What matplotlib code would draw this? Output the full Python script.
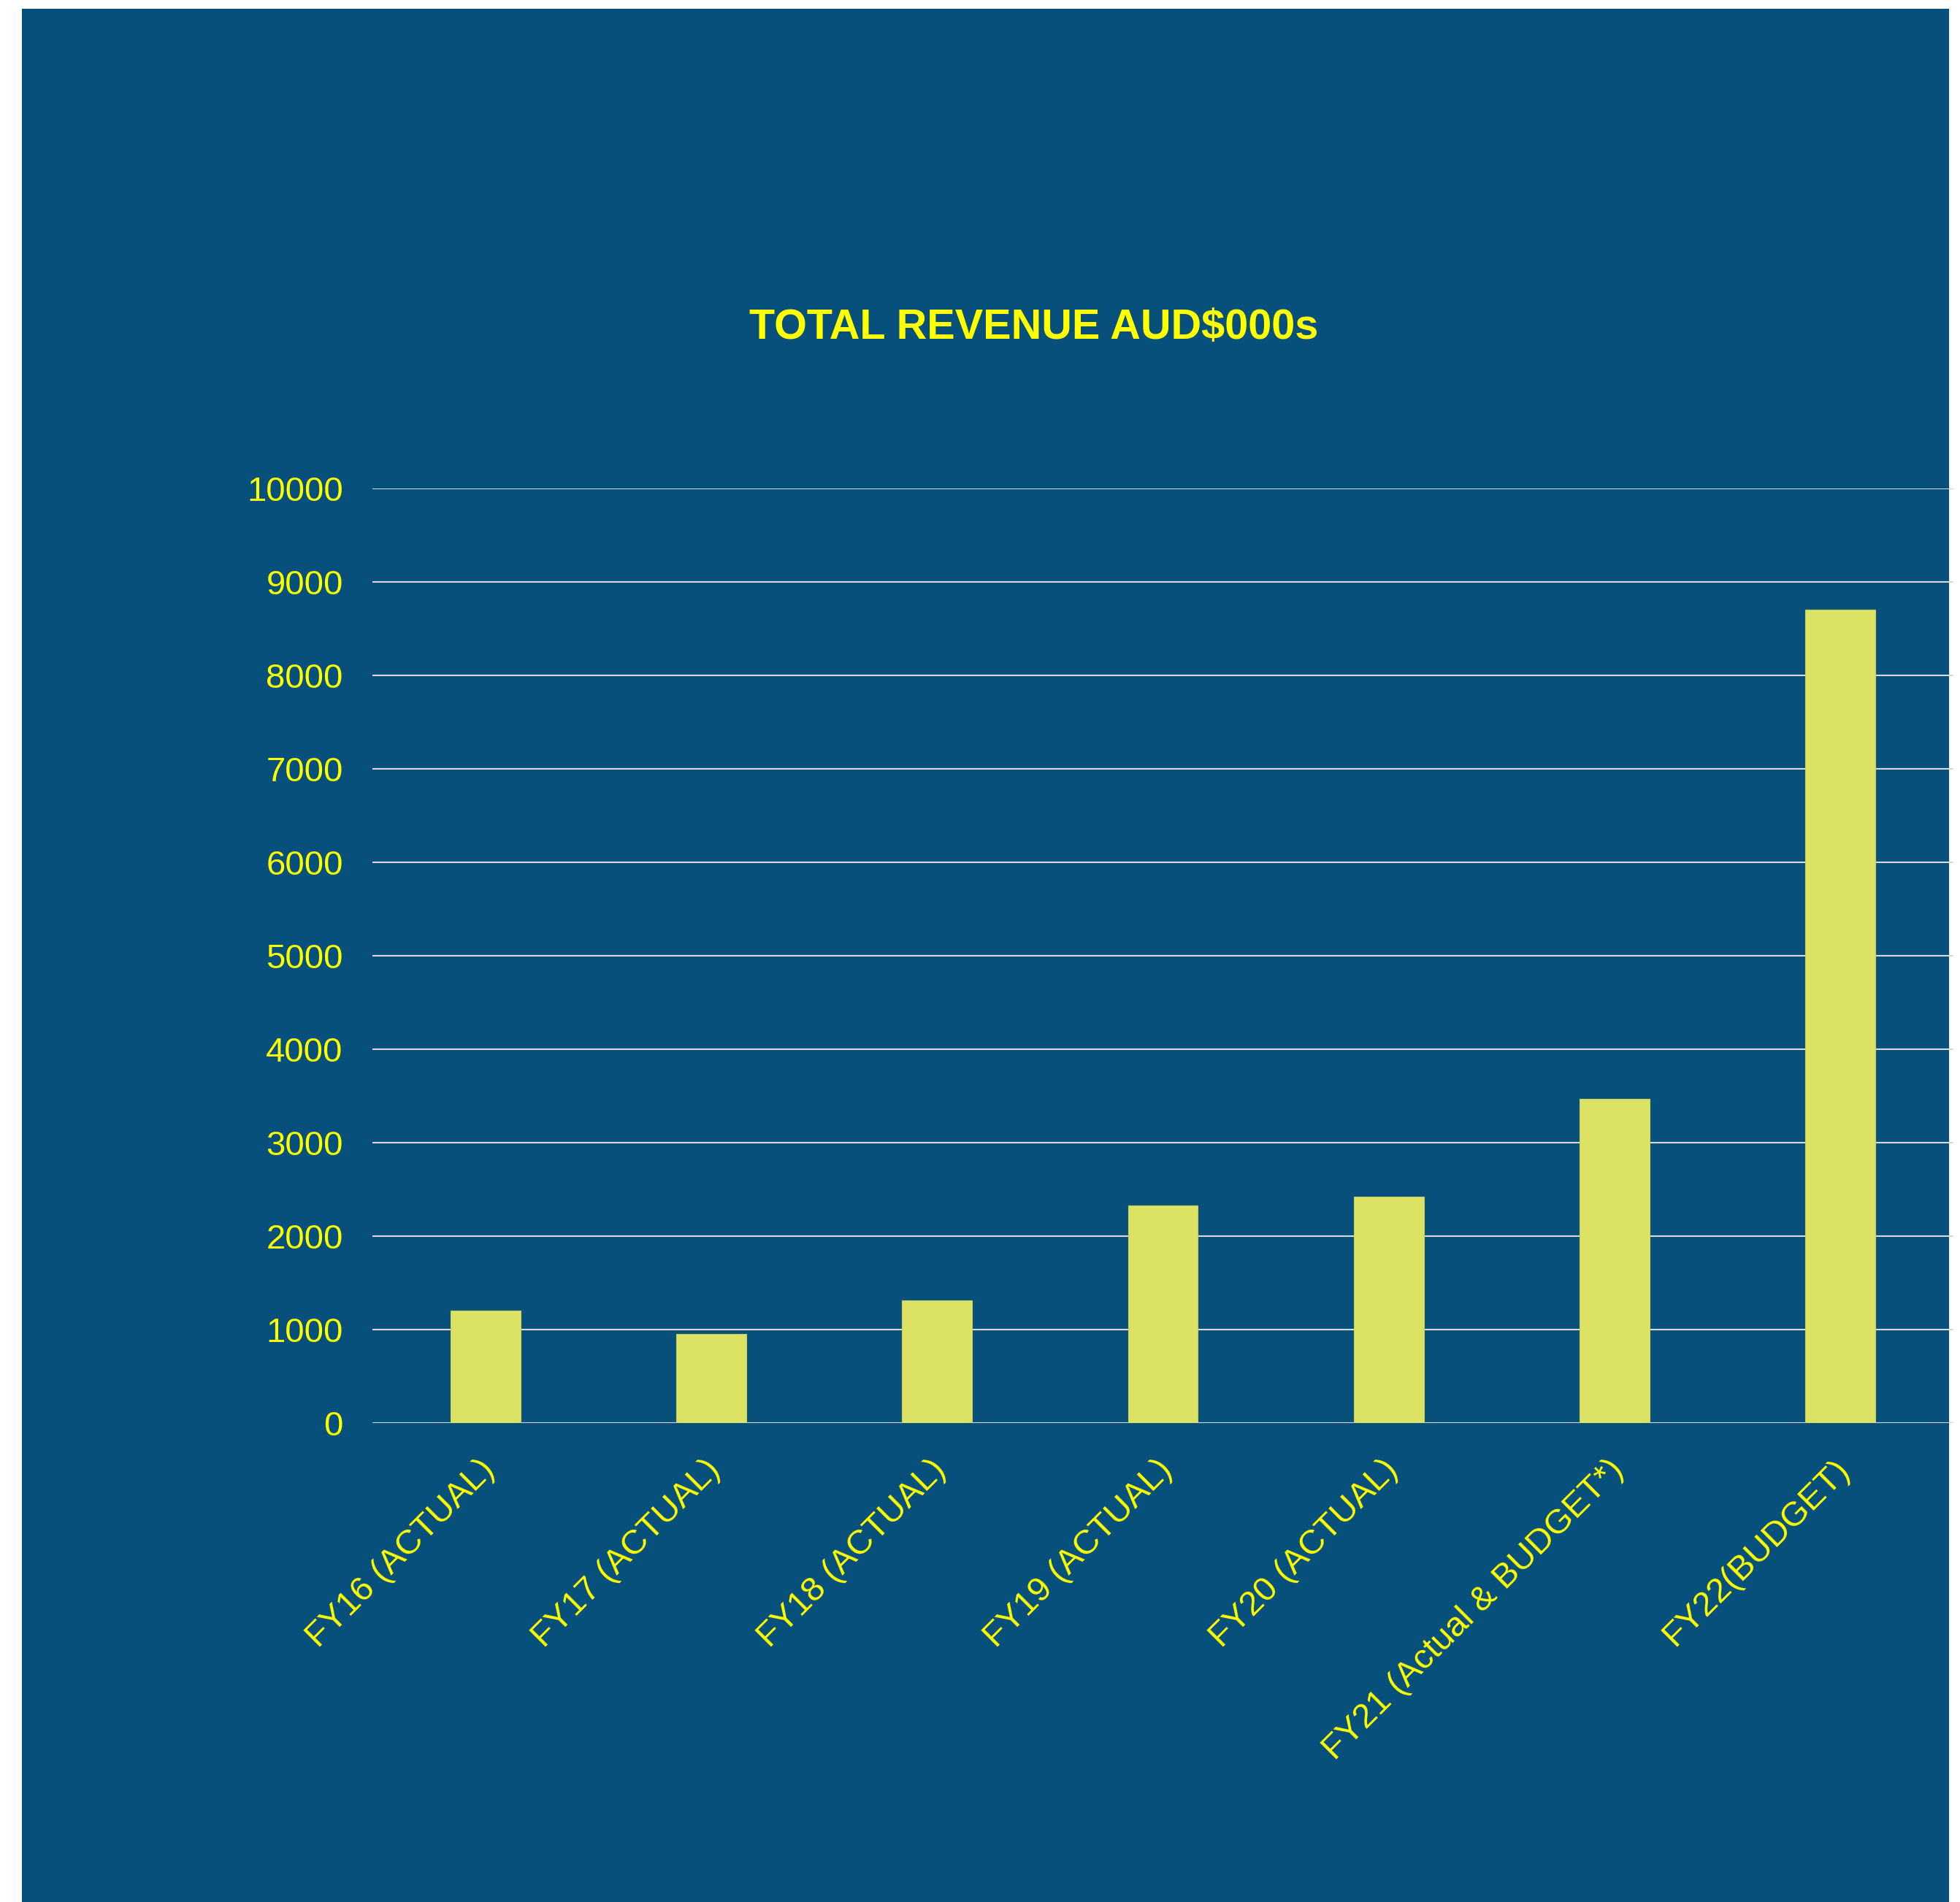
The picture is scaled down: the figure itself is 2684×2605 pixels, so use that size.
import matplotlib
matplotlib.use("Agg")
import matplotlib.pyplot as plt
import matplotlib.transforms as mtrans
from matplotlib.patches import Rectangle

categories = ["FY16 (ACTUAL)", "FY17 (ACTUAL)", "FY18 (ACTUAL)", "FY19 (ACTUAL)",
              "FY20 (ACTUAL)", "FY21 (Actual & BUDGET*)", "FY22(BUDGET)"]
revenue = [1200, 950, 1310, 2330, 2420, 3465, 8700]
yticks = [0, 1000, 2000, 3000, 4000, 5000, 6000, 7000, 8000, 9000, 10000]
title = "TOTAL REVENUE AUD$000s"

BLUE = "#07507B"
BAR = "#DCE263"
YEL = "#FFFF00"
GRID = "#D9D9D9"

plt.rcParams['font.family'] = ['Liberation Sans', 'DejaVu Sans']

W, H = 2684, 2605
fig = plt.figure(figsize=(W / 100, H / 100), dpi=100, facecolor="white")
fig.patches.append(Rectangle((30 / W, 0), (2669 - 30) / W, (H - 12) / H,
                             transform=fig.transFigure, facecolor=BLUE,
                             edgecolor="none", zorder=-10))

ax = fig.add_axes([510 / W, (H - 1949) / H, (2675 - 510) / W, (1949 - 669) / H])
ax.set_zorder(5)
ax.set_facecolor("none")
x = list(range(len(categories)))
ax.bar(x, revenue, width=0.31, color=BAR, edgecolor="#C9D35A", linewidth=0.8, zorder=3)
ax.set_xlim(-0.5, len(categories) - 0.5)
ax.set_ylim(0, 10000)
ax.set_yticks(yticks)
ax.set_yticklabels([str(v) for v in yticks])
ax.set_xticks(x)
ax.set_xticklabels(categories, rotation=45, ha="right", rotation_mode="anchor")
ax.yaxis.grid(True, color=GRID, linewidth=1.5, zorder=1)
ax.set_axisbelow(True)
for s in ax.spines.values():
    s.set_visible(False)
ax.tick_params(axis="both", length=0, colors=YEL, labelsize=34)
ax.tick_params(axis="y", pad=29)
ax.tick_params(axis="x", pad=30)
shift = mtrans.ScaledTranslation(-10 / 100, 0, fig.dpi_scale_trans)
for lbl in ax.get_xticklabels():
    lbl.set_color(YEL)
    lbl.set_transform(lbl.get_transform() + shift)
for lbl in ax.get_yticklabels():
    lbl.set_color(YEL)

fig.text(1416 / W, (H - 449) / H, title, ha="center", va="center",
         color=YEL, fontsize=41.5, fontweight="bold", zorder=6)

fig.savefig("out.png", dpi=100, facecolor="white")
